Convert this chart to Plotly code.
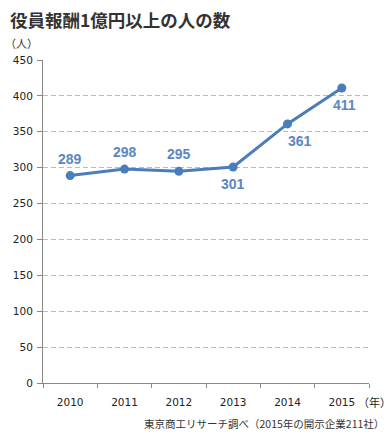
import plotly.graph_objects as go

years = ["2010", "2011", "2012", "2013", "2014", "2015"]
counts = [289, 298, 295, 301, 361, 411]

# label placement (style): vertical / horizontal pixel shift of each value label
label_yshift = [17, 17, 17, -17, -17, -17]
label_xshift = [0, 0, 0, 0, 12, 3]

line_color = "#4a7ebb"
label_color = "#5b86c0"
num_font = "DejaVu Sans, Verdana, sans-serif"
jp_font = "Noto Sans CJK JP, sans-serif"

W, H = 392, 440
l, r, t, b = 43, 23, 60, 57

fig = go.Figure()
fig.add_trace(go.Scatter(
    x=years, y=counts,
    mode="lines+markers",
    line=dict(color=line_color, width=3),
    marker=dict(color=line_color, size=9),
    cliponaxis=False,
    hoverinfo="skip",
))

for i, (v, ys, xs) in enumerate(zip(counts, label_yshift, label_xshift)):
    fig.add_annotation(x=i, y=v, xref="x", yref="y", text=f"<b>{v}</b>", showarrow=False,
                       yshift=ys, xshift=xs,
                       font=dict(family="Liberation Sans, Arial, sans-serif", size=14, color=label_color))

fig.update_layout(
    width=W, height=H,
    margin=dict(l=l, r=r, t=t, b=b),
    paper_bgcolor="white", plot_bgcolor="white",
    showlegend=False,
    font=dict(family=jp_font, color="#222"),
    xaxis=dict(
        type="category", tickson="boundaries", ticks="outside", ticklen=4,
        tickcolor="#888", showline=True, linecolor="#888", linewidth=1,
        showgrid=False, tickfont=dict(family=num_font, size=10.5, color="#222"),
        ticklabelstandoff=9,
        range=[-0.5, 5.5],
    ),
    yaxis=dict(
        range=[0, 450], dtick=50, ticks="outside", ticklen=5, tickcolor="#888",
        showline=True, linecolor="#888", linewidth=1,
        showgrid=True, gridcolor="#bbb", griddash="5px,3px", gridwidth=1,
        zeroline=False, tickfont=dict(family=num_font, size=10.5, color="#222"),
        ticklabelstandoff=2,
    ),
)

pw, ph = W - l - r, H - t - b

def px(x):
    return (x - l) / pw

def py(y):
    return (H - b - y) / ph

fig.add_annotation(text="<b>役員報酬1億円以上の人の数</b>", x=px(8), y=py(19), xref="paper", yref="paper",
                   showarrow=False, font=dict(size=17.5, color="#333"), xanchor="left", yanchor="middle")
fig.add_annotation(text="（人）", x=px(3), y=py(43), xref="paper", yref="paper",
                   showarrow=False, font=dict(size=11, color="#333"), xanchor="left", yanchor="middle")
fig.add_annotation(text="（年）", x=px(356), y=py(402), xref="paper", yref="paper",
                   showarrow=False, font=dict(size=11, color="#222"), xanchor="left", yanchor="middle")
fig.add_annotation(text="東京商工リサーチ調べ（2015年の開示企業211社）", x=px(386), y=py(423), xref="paper", yref="paper",
                   showarrow=False, font=dict(size=10.5, color="#333"), xanchor="right", yanchor="middle")

fig.write_html("out.html", config={"displayModeBar": False},
               post_script="document.body.style.margin='0';")
